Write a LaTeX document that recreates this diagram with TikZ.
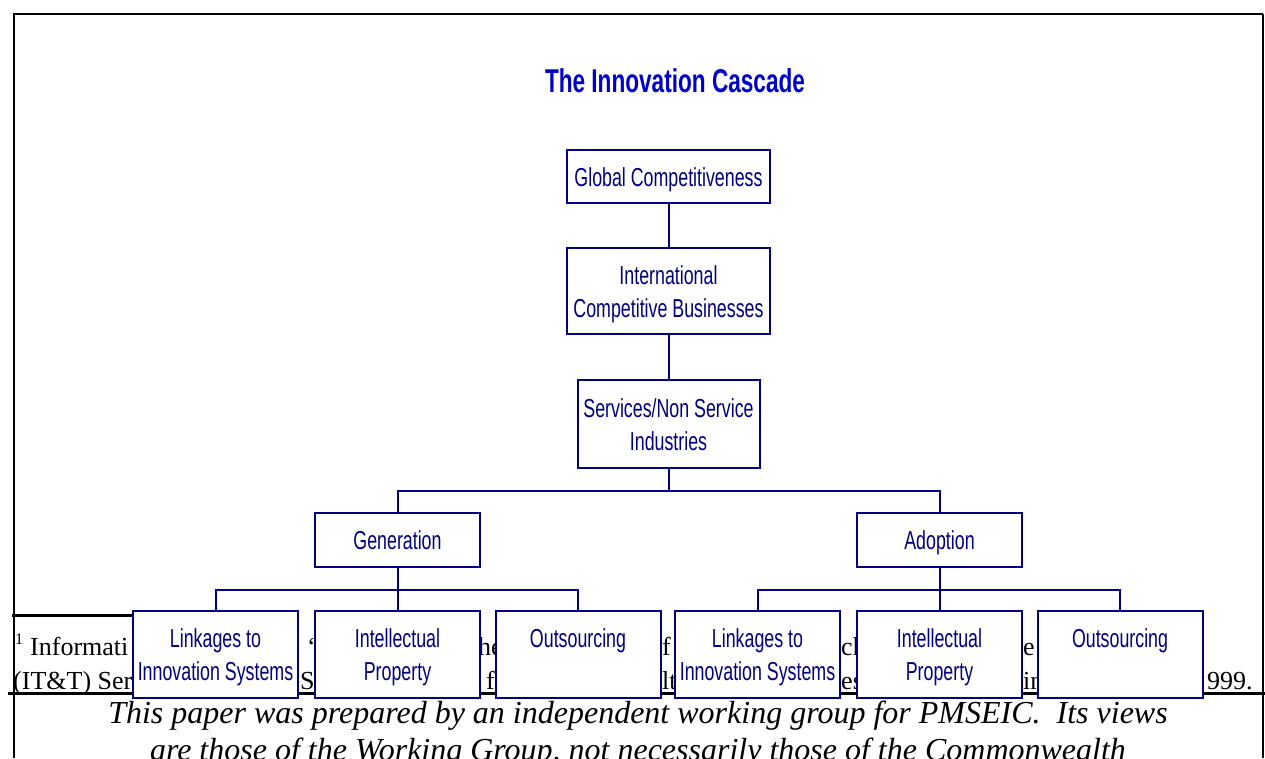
\documentclass[tikz,border=0pt]{standalone}
\usepackage{fontspec}
\setmainfont{Liberation Serif}
\newfontfamily\narrowsans[FakeStretch=0.685]{Liberation Sans}
\usetikzlibrary{positioning}

\definecolor{chartnavy}{RGB}{0,0,128}
\definecolor{titleblue}{RGB}{0,0,204}

% strut giving every box line the same height and depth
\newcommand\bstr{\rule[-6pt]{0pt}{31pt}}

\tikzset{
  chartbox/.style={draw=chartnavy, line width=2pt, fill=white, text=chartnavy,
    align=center, inner sep=1pt,
    font=\narrowsans\fontsize{26}{33}\selectfont},
  link/.style={draw=chartnavy, line width=2pt},
  rulefine/.style={draw=black, line width=2pt},
  rulethick/.style={draw=black, line width=3pt},
  fnote/.style={anchor=base west, inner sep=0pt, font=\fontsize{26}{34}\selectfont},
  disclaimer/.style={inner sep=0pt, anchor=base, font=\itshape\fontsize{32}{37}\selectfont},
}

\begin{document}
\begin{tikzpicture}[x=1pt, y=-1pt]
  \useasboundingbox (0,0) rectangle (1265,758);
  \clip (0,0) rectangle (1265,758);

  % page frame
  \draw[rulefine] (14,14) -- (1263,14);
  \draw[rulefine] (14,13) -- (14,758);
  \draw[rulefine] (1263,14) -- (1263,758);

  % footnote rules
  \draw[rulethick] (12,615) -- (200,615);
  \draw[rulethick] (8,693) -- (1265,693);

  % footnote fragments
  \node[anchor=base west, inner sep=0pt, font=\fontsize{16}{18}\selectfont] (fnmark) at (15,644) {1};
  \node[fnote] (fa1) at (30,655) {Informati};
  \node[fnote] (fa2) at (307,655) {‘};
  \node[fnote] (fa3) at (478,655) {he};
  \node[fnote] (fa4) at (662,655) {f};
  \node[fnote] (fa5) at (841,655) {ch};
  \node[fnote] (fa6) at (1023,655) {e};
  \node[fnote] (fb1) at (13,689) {(IT\&T) Ser};
  \node[fnote] (fb2) at (300,689) {St};
  \node[fnote] (fb3) at (486,689) {f};
  \node[fnote] (fb4) at (662,689) {lt};
  \node[fnote] (fb5) at (841,689) {es};
  \node[fnote] (fb6) at (1023,689) {in};
  \node[fnote] (fb7) at (1207,689) {999.};

  % disclaimer
  \node[disclaimer] (disc1) at (638,723)
    {This paper was prepared by an independent working group for PMSEIC.~ Its views};
  \node[disclaimer] (disc2) at (638,760)
    {are those of the Working Group, not necessarily those of the Commonwealth};

  % title
  \node[inner sep=0pt, anchor=base, text=titleblue, font=\narrowsans\bfseries\fontsize{33}{40}\selectfont] (title) at (675,92)
    {The Innovation Cascade};

  % cascade boxes
  \node[chartbox, minimum width=203pt, minimum height=53pt] (gc) at (668.5,176.5)
    {\bstr Global Competitiveness};
  \node[chartbox, minimum width=203pt, minimum height=86pt] (icb) at (668.5,291)
    {\bstr International\\\bstr Competitive Businesses};
  \node[chartbox, minimum width=182pt, minimum height=88pt] (sns) at (668.5,424)
    {\bstr Services/Non Service\\\bstr Industries};
  \node[chartbox, minimum width=165pt, minimum height=54pt] (gen) at (397.5,540)
    {\bstr Generation};
  \node[chartbox, minimum width=165pt, minimum height=54pt] (ado) at (939.5,540)
    {\bstr Adoption};

  \foreach \nm/\cx/\txt in {
      lk1/215.5/{\bstr Linkages to\\\bstr Innovation Systems},
      ip1/397.5/{\bstr Intellectual\\\bstr Property},
      os1/578/{\bstr Outsourcing\\\bstr},
      lk2/757.5/{\bstr Linkages to\\\bstr Innovation Systems},
      ip2/939.5/{\bstr Intellectual\\\bstr Property},
      os2/1120/{\bstr Outsourcing\\\bstr}}
    \node[chartbox, minimum width=165pt, minimum height=87pt] (\nm) at (\cx,654.5) {\txt};

  % connectors
  \draw[link] (gc.south) -- (icb.north);
  \draw[link] (icb.south) -- (sns.north);
  \draw[link] (sns.south) -- ++(0,22) -| (gen.north);
  \draw[link] (sns.south) -- ++(0,22) -| (ado.north);
  \draw[link] (gen.south) -- ++(0,22) -| (lk1.north);
  \draw[link] (gen.south) -- ++(0,22) -| (os1.north);
  \draw[link] (gen.south) -- (ip1.north);
  \draw[link] (ado.south) -- ++(0,22) -| (lk2.north);
  \draw[link] (ado.south) -- ++(0,22) -| (os2.north);
  \draw[link] (ado.south) -- (ip2.north);
\end{tikzpicture}
\end{document}
